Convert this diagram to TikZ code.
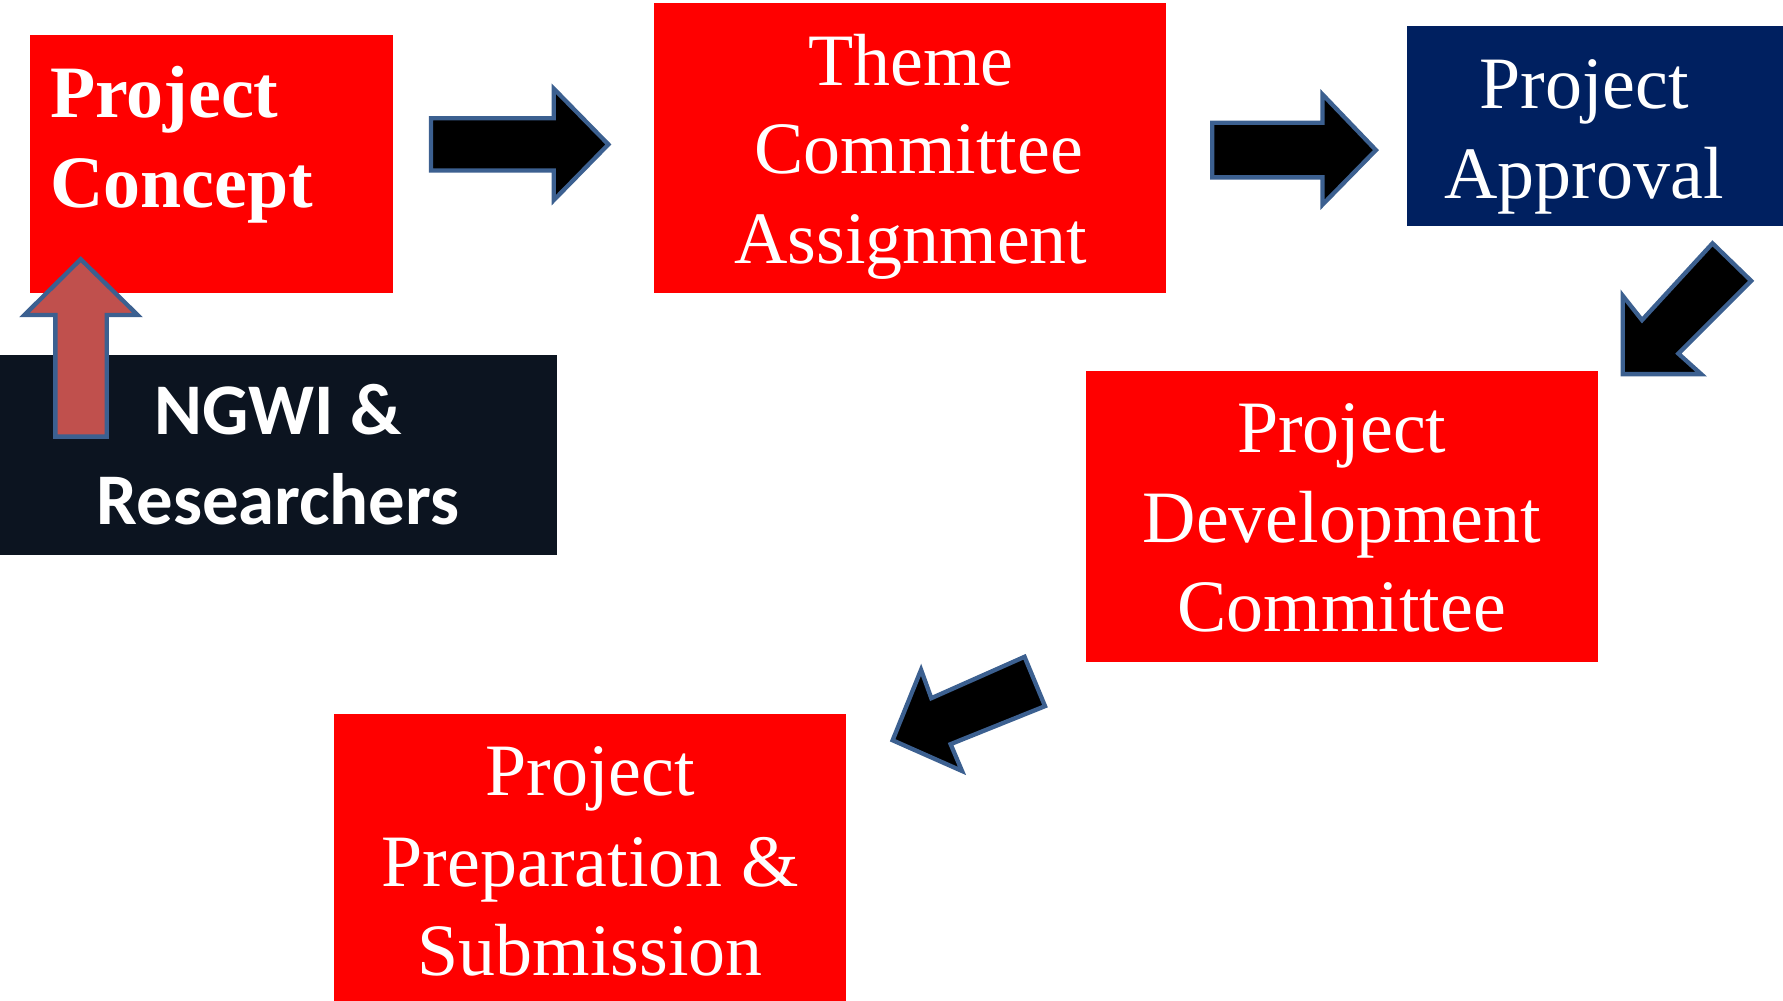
\documentclass[tikz,border=0pt]{standalone}
\usepackage{fontspec}
\setmainfont{Liberation Serif}
\newfontfamily\calib{Carlito}
\definecolor{boxred}{HTML}{FF0000}
\definecolor{navy}{HTML}{002060}
\definecolor{darkbox}{HTML}{0C1420}
\definecolor{arrowline}{HTML}{3C6090}
\definecolor{uparrow}{HTML}{C0504D}
\begin{document}
\begin{tikzpicture}[x=1pt,y=-1pt,
  box/.style={rectangle, inner sep=0pt, outer sep=0pt, draw=none},
  txt/.style={text=white, inner sep=0pt, outer sep=0pt, anchor=base, font=\fontsize{65}{78}\selectfont},
  btxt/.style={txt, font=\fontsize{65}{78}\selectfont\bfseries},
  stxt/.style={txt, font=\fontsize{64}{78}\selectfont\calib\bfseries},
  blockarrow/.style={draw=arrowline, line width=3.8pt, line join=miter, fill=black}]
\useasboundingbox (0,0) rectangle (1568,880);
% boxes
\node[box, fill=boxred, minimum width=320, minimum height=227] (concept) at (186,144.5) {};
\node[box, fill=darkbox, minimum width=490, minimum height=176] (ngwi) at (245,400) {};
\node[box, fill=boxred, minimum width=450, minimum height=255] (theme) at (800,130.5) {};
\node[box, fill=navy, minimum width=331, minimum height=176] (approval) at (1402.5,111) {};
\node[box, fill=boxred, minimum width=450, minimum height=256] (dev) at (1180,454) {};
\node[box, fill=boxred, minimum width=450, minimum height=252] (sub) at (519,754) {};
% texts
\node[btxt, anchor=base west] (concept1) at (44,103) {Project};
\node[btxt, anchor=base west] (concept2) at (44,182.5) {Concept};
\node[stxt] (ngwi1) at (244.5,382) {NGWI \&};
\node[stxt] (ngwi2) at (244.5,461) {Researchers};
\node[txt] (theme1) at (801,75) {Theme};
\node[txt] (theme2) at (808,153) {Committee};
\node[txt] (theme3) at (801,232) {Assignment};
\node[txt] (approval1) at (1393,95.5) {Project};
\node[txt] (approval2) at (1393,174.5) {Approval};
\node[txt] (dev1) at (1180,398) {Project};
\node[txt] (dev2) at (1180,477.5) {Development};
\node[txt] (dev3) at (1180,555.5) {Committee};
\node[txt] (sub1) at (519,700) {Project};
\node[txt] (sub2) at (519,779.5) {Preparation \&};
\node[txt] (sub3) at (519,857.5) {Submission};
% block arrows
\draw[blockarrow] (379,104) -- (487,104) -- (487,78) -- (535,127) -- (487,176) -- (487,150) -- (379,150) -- cycle;
\draw[blockarrow] (1066,108) -- (1163,108) -- (1163,83) -- (1210,132) -- (1163,180) -- (1163,156) -- (1066,156) -- cycle;
\draw[blockarrow] (1506,214) -- (1540,247) -- (1476,311) -- (1496,329) -- (1427,329) -- (1427,260) -- (1444,281.5) -- cycle;
\draw[blockarrow] (901,577.6) -- (919,621) -- (836,654.4) -- (846,678) -- (785,651) -- (810,589) -- (819,614) -- cycle;
\draw[blockarrow, fill=uparrow] (48.7,384) -- (48.7,277) -- (21.5,277) -- (71,228) -- (121,277) -- (93.8,277) -- (93.8,384) -- cycle;
\end{tikzpicture}
\end{document}
